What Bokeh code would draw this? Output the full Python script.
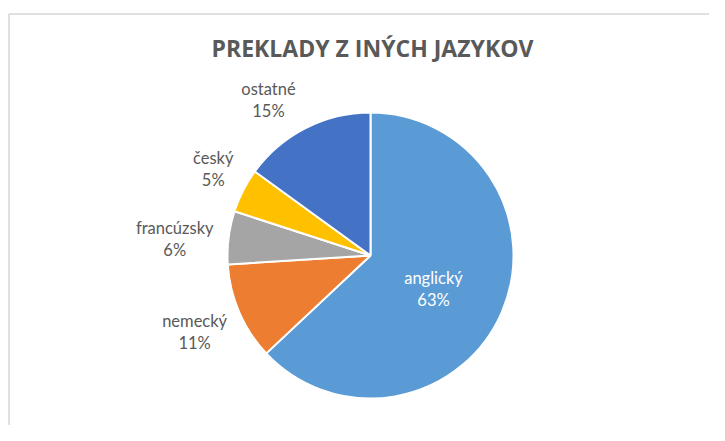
import math
from bokeh.plotting import figure
from bokeh.models import Range1d, ColumnDataSource
from bokeh.core.properties import value
from bokeh.embed import file_html
from bokeh.resources import INLINE

# ---- data ----
title_text = "PREKLADY Z INÝCH JAZYKOV"
categories = ["anglický", "nemecký", "francúzsky", "český", "ostatné"]
shares = [63, 11, 6, 5, 15]

# ---- style / layout ----
colors = ["#5B9BD5", "#ED7D31", "#A5A5A5", "#FFC000", "#4472C4"]
label_colors = ["#FFFFFF", "#595959", "#595959", "#595959", "#595959"]
W, H = 709, 425
PAGE_H = 441
CX, CY, R = 370, 255, 143              # pie centre / radius (picture px)
label_k = [0.48, 1.34, 1.38, 1.234, 1.31]
label_nudge = [(0, 6.5), (0, 0), (0, 8), (0, -6), (-17, 11)]
LINE_GAP = 11

def py(page_y):
    return PAGE_H - page_y

p = figure(width=W, height=H, output_backend="svg", toolbar_location=None,
           x_range=Range1d(0, W), y_range=Range1d(PAGE_H - H, PAGE_H),
           x_axis_type=None, y_axis_type=None, min_border=0,
           outline_line_color=None, background_fill_color="white",
           border_fill_color="white")
p.grid.visible = False

# chart area frame (top and left edges)
p.segment(x0=[8.5, 8.5], y0=[py(13.5), py(13.5)], x1=[722, 8.5], y1=[py(13.5), py(441)],
          line_color="#d6d6d6", line_width=1.5)

total = float(sum(shares))
starts, ends, mids = [], [], []
cum = 0.0
for s in shares:
    c0 = cum / total
    cum += s
    c1 = cum / total
    starts.append(math.pi / 2 - 2 * math.pi * c1)
    ends.append(math.pi / 2 - 2 * math.pi * c0)
    mids.append(2 * math.pi * (c0 + c1) / 2)

src = ColumnDataSource(dict(start=starts, end=ends, color=colors, cat=categories))
p.wedge(x=CX, y=py(CY), radius=R, start_angle="start", end_angle="end",
        fill_color="color", line_color="white", line_width=2, source=src)

lx, ly1, ly2, pct = [], [], [], []
for i, s in enumerate(shares):
    th = mids[i]
    k = label_k[i]
    nx, ny = label_nudge[i]
    x = CX + k * R * math.sin(th) + nx
    y_page = CY - k * R * math.cos(th) + ny
    lx.append(x)
    ly1.append(py(y_page - LINE_GAP))
    ly2.append(py(y_page + LINE_GAP))
    pct.append(f"{round(100 * s / total)}%")

lsrc = ColumnDataSource(dict(x=lx, y1=ly1, y2=ly2, name=categories, pct=pct, c=label_colors))
p.text(x="x", y="y1", text="name", source=lsrc, text_color="c",
       text_font=value("Lato"), text_font_size="16.5px",
       text_align="center", text_baseline="middle")
p.text(x="x", y="y2", text="pct", source=lsrc, text_color="c",
       text_font=value("Lato"), text_font_size="16.5px",
       text_align="center", text_baseline="middle")

p.text(x=[372], y=[py(47)], text=[title_text], text_color="#595959",
       text_font=value("Open Sans"), text_font_size="23px", text_font_style="bold",
       text_align="center", text_baseline="middle")

open("out.html", "w").write(file_html(p, INLINE))
